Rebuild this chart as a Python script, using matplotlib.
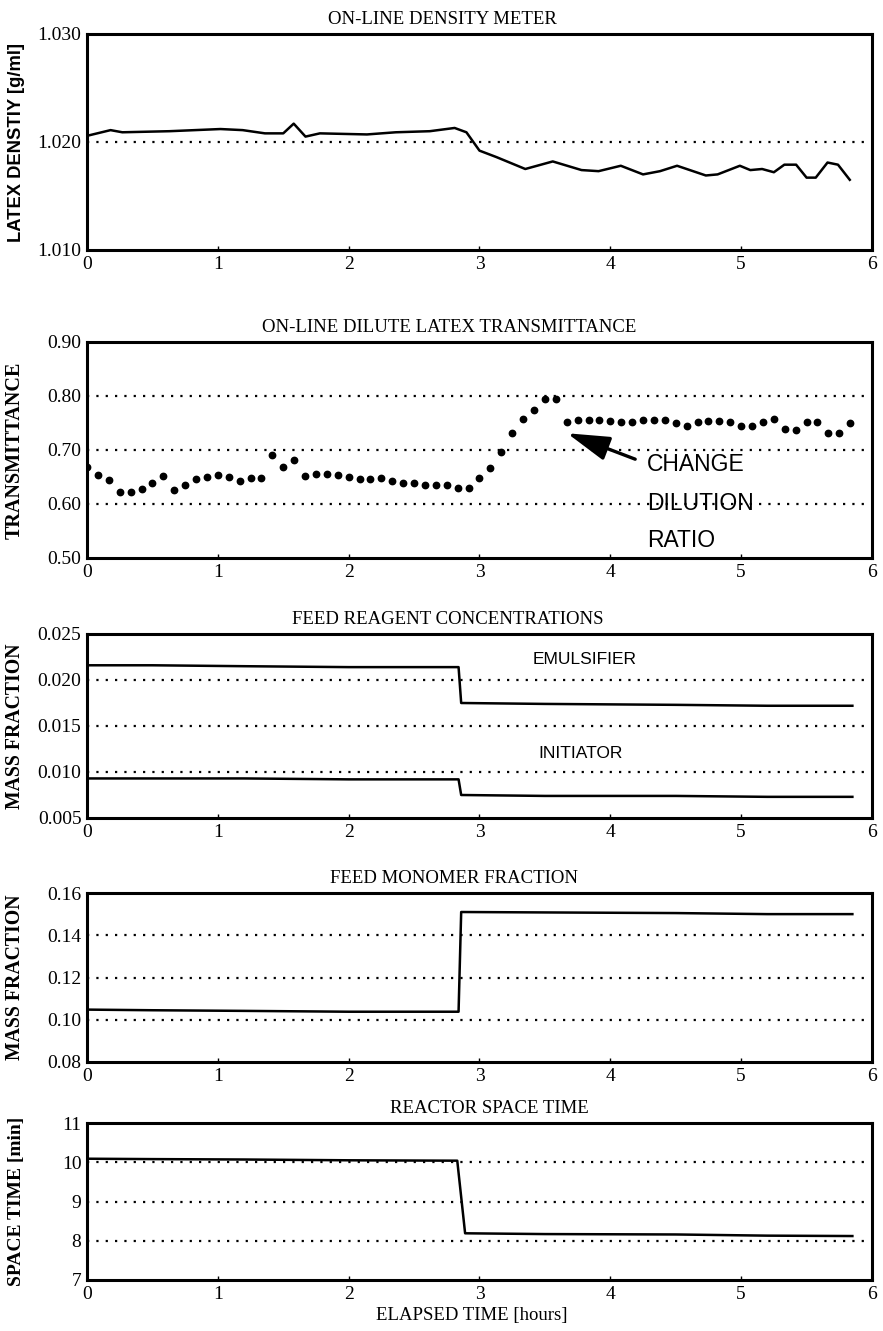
#!/usr/bin/env python3
import numpy as np
import matplotlib

matplotlib.use("Agg")
from matplotlib import pyplot as plt

# ---- data (elapsed time in hours) ----
density_t = [0.01, 0.18, 0.27, 0.63, 1.02, 1.19, 1.36, 1.50, 1.58, 1.67, 1.78,
             2.14, 2.36, 2.62, 2.81, 2.90, 3.00, 3.13, 3.35, 3.56, 3.78, 3.91,
             4.08, 4.25, 4.38, 4.51, 4.73, 4.82, 4.99, 5.07, 5.16, 5.25, 5.33,
             5.42, 5.50, 5.57, 5.66, 5.74, 5.83]
density = [1.0206, 1.0211, 1.0209, 1.0210, 1.0212, 1.0211, 1.0208, 1.0208,
           1.0217, 1.0205, 1.0208, 1.0207, 1.0209, 1.0210, 1.0213, 1.0209,
           1.0192, 1.0186, 1.0175, 1.0182, 1.0174, 1.0173, 1.0178, 1.0170,
           1.0173, 1.0178, 1.0169, 1.0170, 1.0178, 1.0174, 1.0175, 1.0172,
           1.0179, 1.0179, 1.0167, 1.0167, 1.0181, 1.0179, 1.0165]

# one transmittance sample every 5 minutes
trans = [0.668, 0.653, 0.645, 0.623, 0.623, 0.627, 0.639, 0.652, 0.626, 0.636,
         0.647, 0.650, 0.654, 0.650, 0.642, 0.648, 0.648, 0.690, 0.669, 0.682,
         0.652, 0.655, 0.655, 0.654, 0.650, 0.647, 0.647, 0.648, 0.643, 0.639,
         0.639, 0.635, 0.635, 0.635, 0.630, 0.630, 0.648, 0.666, 0.697, 0.731,
         0.757, 0.775, 0.795, 0.795,
         0.751, 0.756, 0.756, 0.756, 0.754, 0.751, 0.751, 0.756, 0.756, 0.755,
         0.750, 0.745, 0.752, 0.754, 0.754, 0.752, 0.745, 0.745, 0.752, 0.757,
         0.739, 0.737, 0.752, 0.752, 0.732, 0.732, 0.750]
trans_t = np.arange(len(trans)) / 12.0

step_t = [0, 0.5, 1.2, 2.0, 2.84, 2.86, 3.5, 4.5, 5.2, 5.85]
emulsifier = [0.0216, 0.0216, 0.0215, 0.0214, 0.0214, 0.0175, 0.0174, 0.0173, 0.0172, 0.0172]
initiator = [0.0093, 0.0093, 0.0093, 0.0092, 0.0092, 0.0075, 0.0074, 0.0074, 0.0073, 0.0073]
monomer = [0.1048, 0.1045, 0.1042, 0.1038, 0.1038, 0.1510, 0.1508, 0.1505, 0.1500, 0.1500]

space_t = [0, 0.5, 1.2, 2.0, 2.83, 2.89, 3.5, 4.5, 5.2, 5.85]
space_time = [10.09, 10.08, 10.07, 10.05, 10.04, 8.19, 8.17, 8.16, 8.13, 8.12]

SERIF = ["Liberation Serif", "DejaVu Serif"]
SANS = ["Liberation Sans", "DejaVu Sans"]

W, H = 883, 1331
fig = plt.figure(figsize=(W / 100, H / 100), dpi=100)


def make_ax(top, bottom, ylim, yticks, ylabel, title, title_x,
            label_family=SERIF, label_size=14):
    left, right = 87, 872
    ax = fig.add_axes([left / W, 1 - bottom / H, (right - left) / W, (bottom - top) / H])
    ax.set_xlim(0, 6)
    ax.set_ylim(*ylim)
    ax.set_xticks(range(7))
    ax.set_yticks(yticks[0])
    ax.set_yticklabels(yticks[1])
    for s in ax.spines.values():
        s.set_linewidth(2.2)
    ax.tick_params(axis="x", direction="in", length=3, width=1, pad=4)
    ax.tick_params(axis="y", length=0, pad=4)
    for lab in ax.get_xticklabels() + ax.get_yticklabels():
        lab.set_family(SERIF)
        lab.set_fontsize(14)
    # dotted reference lines at the interior ticks
    for v in yticks[0][1:-1]:
        ax.axhline(v, color="black", lw=1.6, ls=(0, (1, 3.2)), zorder=1)
    ax.set_ylabel(ylabel, family=label_family, fontsize=label_size, fontweight="bold")
    ax.yaxis.set_label_coords(-0.079, 0.5)
    ax.set_title(title, family=SERIF, fontsize=13.5, x=title_x, pad=7)
    return ax


# ON-LINE DENSITY METER
ax1 = make_ax(34, 250, (1.010, 1.030),
              ([1.010, 1.020, 1.030], ["1.010", "1.020", "1.030"]),
              "LATEX DENSTIY [g/ml]", "ON-LINE DENSITY METER", 0.453, SANS, 13.2)
ax1.plot(density_t, density, color="black", lw=1.8)

# ON-LINE DILUTE LATEX TRANSMITTANCE
ax2 = make_ax(342, 558, (0.50, 0.90),
              ([0.50, 0.60, 0.70, 0.80, 0.90], ["0.50", "0.60", "0.70", "0.80", "0.90"]),
              "TRANSMITTANCE", "ON-LINE DILUTE LATEX TRANSMITTANCE", 0.461, SERIF, 14.5)
ax2.plot(trans_t, trans, "o", color="black", ms=4.6, zorder=3)
ax2.annotate("", xy=(3.67, 0.731), xytext=(4.19, 0.683),
             arrowprops=dict(arrowstyle="-|>,head_length=2.6,head_width=0.75",
                             color="black", lw=2.4, shrinkA=0, shrinkB=0))
for txt, yv in [("CHANGE", 0.673), ("DILUTION", 0.600), ("RATIO", 0.532)]:
    ax2.text(4.28, yv, txt, family=SANS, fontsize=16.5, va="center", ha="left")

# FEED REAGENT CONCENTRATIONS
ax3 = make_ax(634, 818, (0.005, 0.025),
              ([0.005, 0.010, 0.015, 0.020, 0.025],
               ["0.005", "0.010", "0.015", "0.020", "0.025"]),
              "MASS FRACTION", "FEED REAGENT CONCENTRATIONS", 0.46, SERIF, 14.2)
ax3.plot(step_t, emulsifier, color="black", lw=1.8)
ax3.plot(step_t, initiator, color="black", lw=1.8)
ax3.text(3.80, 0.0222, "EMULSIFIER", family=SANS, fontsize=12.5, ha="center", va="center")
ax3.text(3.77, 0.0120, "INITIATOR", family=SANS, fontsize=12.5, ha="center", va="center")

# FEED MONOMER FRACTION
ax4 = make_ax(893, 1062, (0.08, 0.16),
              ([0.08, 0.10, 0.12, 0.14, 0.16], ["0.08", "0.10", "0.12", "0.14", "0.16"]),
              "MASS FRACTION", "FEED MONOMER FRACTION", 0.468, SERIF, 14.2)
ax4.plot(step_t, monomer, color="black", lw=1.8)

# REACTOR SPACE TIME
ax5 = make_ax(1123, 1280, (7, 11),
              ([7, 8, 9, 10, 11], ["7", "8", "9", "10", "11"]),
              "SPACE TIME [min]", "REACTOR SPACE TIME", 0.513, SERIF, 14)
ax5.plot(space_t, space_time, color="black", lw=1.8)
ax5.set_xlabel("ELAPSED TIME [hours]", family=SERIF, fontsize=13.5)
ax5.xaxis.set_label_coords(0.49, -0.17)

fig.savefig("out.png", dpi=100, facecolor="white")
